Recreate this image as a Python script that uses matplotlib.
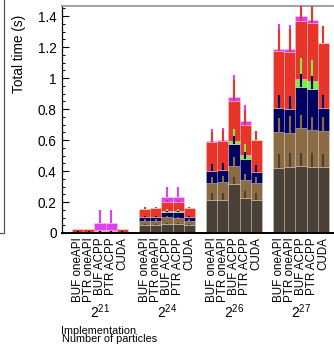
import matplotlib
matplotlib.use("Agg")
import matplotlib.pyplot as plt
import numpy as np
from matplotlib.ticker import MultipleLocator, FuncFormatter
from matplotlib.transforms import blended_transform_factory
from matplotlib.lines import Line2D

plt.rcParams['font.family'] = ['Liberation Sans', 'DejaVu Sans']
plt.rcParams['mathtext.fontset'] = 'custom'
plt.rcParams['mathtext.rm'] = 'Liberation Sans'
plt.rcParams['mathtext.it'] = 'Liberation Sans:italic'

# ---------------- data ----------------
group_labels = [r'$2^{21}$', r'$2^{24}$', r'$2^{26}$', r'$2^{27}$']
implementations = ["BUF oneAPI", "PTR oneAPI", "BUF ACPP", "PTR ACPP", "CUDA"]

seg_dark = [[0.004, 0.004, 0.004, 0.004, 0.004],
            [0.052, 0.052, 0.058, 0.058, 0.052],
            [0.213, 0.213, 0.316, 0.224, 0.213],
            [0.420, 0.424, 0.434, 0.425, 0.428]]
seg_brown = [[0.003, 0.003, 0.003, 0.003, 0.003],
             [0.028, 0.028, 0.043, 0.037, 0.028],
             [0.112, 0.118, 0.118, 0.118, 0.112],
             [0.234, 0.223, 0.241, 0.240, 0.230]]
seg_navy = [[0.002, 0.002, 0.002, 0.002, 0.002],
            [0.021, 0.021, 0.034, 0.040, 0.021],
            [0.075, 0.075, 0.138, 0.135, 0.071],
            [0.154, 0.153, 0.265, 0.264, 0.150]]
seg_green = [[0.0, 0.0, 0.001, 0.001, 0.0],
             [0.0, 0.0, 0.007, 0.007, 0.0],
             [0.0, 0.0, 0.022, 0.026, 0.0],
             [0.0, 0.0, 0.054, 0.052, 0.0]]
seg_red = [[0.015, 0.015, 0.010, 0.010, 0.015],
           [0.052, 0.058, 0.060, 0.060, 0.058],
           [0.185, 0.188, 0.260, 0.194, 0.204],
           [0.368, 0.366, 0.376, 0.372, 0.416]]
seg_magenta = [[0.001, 0.001, 0.046, 0.046, 0.001],
               [0.003, 0.002, 0.032, 0.032, 0.001],
               [0.009, 0.004, 0.025, 0.026, 0.002],
               [0.014, 0.019, 0.028, 0.024, 0.002]]

err_dark = [[0.001] * 5,
            [0.008, 0.008, 0.008, 0.008, 0.008],
            [0.045, 0.045, 0.047, 0.045, 0.045],
            [0.090, 0.095, 0.085, 0.090, 0.082]]
err_brown = [[0.001] * 5,
             [0.008, 0.008, 0.008, 0.008, 0.008],
             [0.038, 0.038, 0.058, 0.038, 0.038],
             [0.088, 0.110, 0.086, 0.086, 0.088]]
err_navy = [[0.001] * 5,
            [0.010, 0.010, 0.010, 0.010, 0.010],
            [0.043, 0.044, 0.054, 0.048, 0.043],
            [0.082, 0.084, 0.086, 0.084, 0.082]]
err_green = [[0.0, 0.0, 0.001, 0.001, 0.0],
             [0.0, 0.0, 0.010, 0.010, 0.0],
             [0.0, 0.0, 0.080, 0.070, 0.0],
             [0.0, 0.0, 0.133, 0.135, 0.0]]
err_red = [[0.002, 0.002, 0.002, 0.002, 0.002],
           [0.012, 0.010, 0.012, 0.012, 0.006],
           [0.067, 0.070, 0.133, 0.097, 0.058],
           [0.140, 0.150, 0.160, 0.160, 0.111]]
err_magenta = [[0.001, 0.001, 0.082, 0.082, 0.001],
               [0.014, 0.009, 0.061, 0.061, 0.005],
               [0.077, 0.082, 0.141, 0.103, 0.0],
               [0.158, 0.157, 0.150, 0.150, 0.0]]

segments = [seg_dark, seg_brown, seg_navy, seg_green, seg_red, seg_magenta]
errors = [err_dark, err_brown, err_navy, err_green, err_red, err_magenta]
colors = ['#4b4036', '#8b6c44', '#000060', '#7aed4c', '#e8352a', '#e23ff0']

# ---------------- figure ----------------
W, H = 334, 353
fig = plt.figure(figsize=(W / 100, H / 100), dpi=100)
ax_left, ax_bottom, ax_top = 61.5, 233.0, 6.0
ax = fig.add_axes([ax_left / W, (H - ax_bottom) / H, (W - ax_left) / W, (ax_bottom - ax_top) / H])

n_groups = len(group_labels)
n_impl = len(implementations)
xpos = np.array([[(n_impl + 1) * g + j for j in range(n_impl)] for g in range(n_groups)], dtype=float)
xs = xpos.ravel()

bottom = np.zeros(xs.size)
for k, (seg, err, col) in enumerate(zip(segments, errors, colors)):
    h = np.array(seg).ravel()
    e = np.array(err).ravel()
    ax.bar(xs, h, width=1.0, bottom=bottom, color=col,
           edgecolor=(1, 1, 1, 0.3), linewidth=0.5, zorder=2)
    top = bottom + h
    ax.errorbar(xs, top, yerr=[np.zeros_like(e), e], fmt='none', ecolor=col,
                elinewidth=1.5, capsize=0, zorder=10 - k)
    bottom = top

ax.set_xlim(-1.44, 22.96)
ax.set_ylim(0, 1.465)

ax.set_xticks(xs)
ax.set_xticklabels(implementations * n_groups, rotation=90, fontsize=8.4)
ax.tick_params(axis='x', length=0, pad=3)

ax.yaxis.set_major_locator(MultipleLocator(0.2))
ax.yaxis.set_minor_locator(MultipleLocator(0.05))
ax.yaxis.set_major_formatter(FuncFormatter(lambda v, p: f'{v:g}'))
ax.tick_params(axis='y', which='major', direction='in', length=5, width=0.8,
               pad=3.5, labelsize=9.8)
ax.tick_params(axis='y', which='minor', direction='in', length=2.5, width=0.7)

ax.spines['right'].set_visible(False)
ax.spines['top'].set_color('#999999')
ax.spines['top'].set_linewidth(1.3)
ax.spines['left'].set_linewidth(0.9)
ax.spines['bottom'].set_linewidth(1.4)

trans = blended_transform_factory(ax.transData, fig.transFigure)
for g, lab in enumerate(group_labels):
    ax.text(xpos[g].mean(), (H - 311.5) / H, lab, transform=trans,
            ha='center', va='center', fontsize=10)

fig.text(19.5 / W, (H - 53.5) / H, 'Total time (s)', rotation=90,
         ha='center', va='center', fontsize=9.8)
fig.text(61.5 / W, (H - 334.5) / H, 'Implementation', ha='left',
         va='baseline', fontsize=7.8)
fig.text(61.5 / W, (H - 341.5) / H, 'Number of particles', ha='left',
         va='baseline', fontsize=7.8)

# remnant of neighbouring panel frame
fig.add_artist(Line2D([4.3 / W, 4.3 / W, 0], [1.0, (H - 232.5) / H, (H - 232.5) / H],
                      transform=fig.transFigure, color='#555555', linewidth=0.9))

fig.savefig('out.png', dpi=100)
